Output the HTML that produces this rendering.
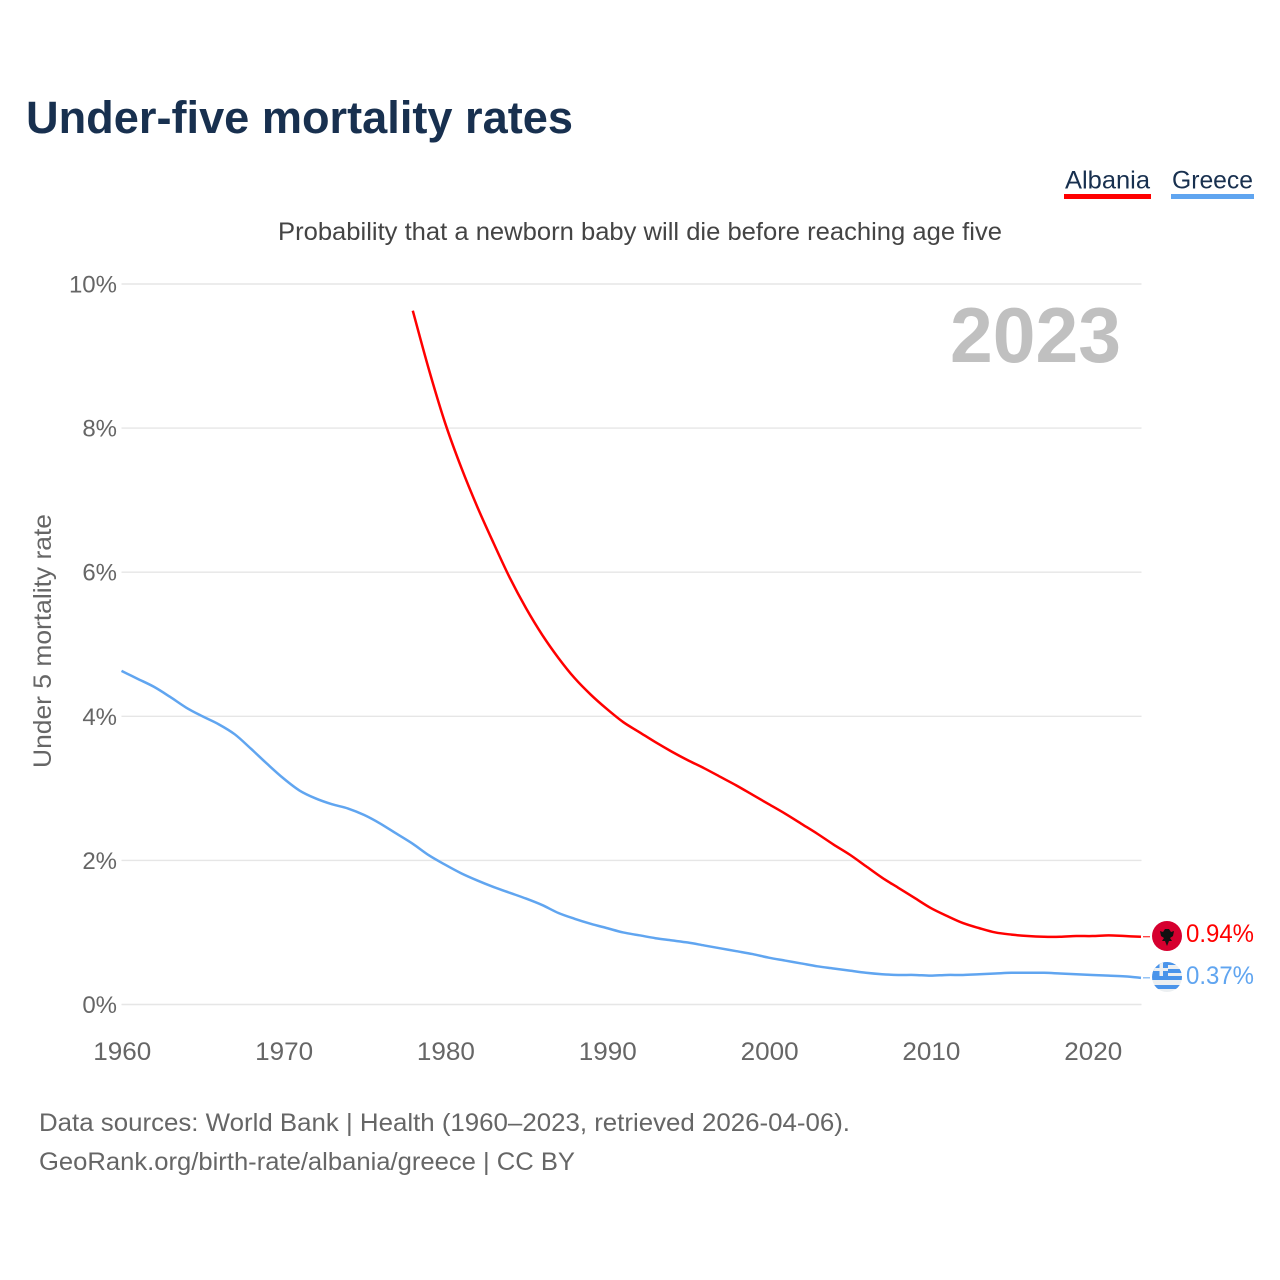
<!DOCTYPE html>
<html>
<head>
<meta charset="utf-8">
<style>
html,body{margin:0;padding:0;background:#fff;}
svg{display:block;}
text{font-family:"Liberation Sans",sans-serif;}
</style>
</head>
<body>
<svg id="chart" xmlns="http://www.w3.org/2000/svg" width="1280" height="1280" viewBox="0 0 1280 1280">
  <rect width="1280" height="1280" fill="#fff"/>
  <text x="26" y="133" font-size="45" font-weight="bold" fill="#18304f" textLength="547" lengthAdjust="spacingAndGlyphs">Under-five mortality rates</text>
  <g>
    <text x="1065" y="188.5" font-size="25" fill="#18304f" textLength="85" lengthAdjust="spacingAndGlyphs">Albania</text>
    <rect x="1064" y="194" width="87" height="5" fill="#ff0000"/>
  </g>
  <g>
    <text x="1172" y="188.5" font-size="25" fill="#18304f" textLength="81" lengthAdjust="spacingAndGlyphs">Greece</text>
    <rect x="1171" y="194" width="83" height="5" fill="#60a5f0"/>
  </g>
  <text x="278" y="240" font-size="25" fill="#444" textLength="724" lengthAdjust="spacingAndGlyphs">Probability that a newborn baby will die before reaching age five</text>
  <text x="950" y="362" font-size="78" font-weight="bold" fill="#c0c0c0" textLength="171" lengthAdjust="spacingAndGlyphs">2023</text>
  <text transform="translate(51 768) rotate(-90)" font-size="25" fill="#666" textLength="254" lengthAdjust="spacingAndGlyphs">Under 5 mortality rate</text>
  <g id="grid"></g>
  <g id="xticks"></g>
  <g id="series"></g>
  <g id="ends"></g>
  <text x="39" y="1131" font-size="25" fill="#666" textLength="811" lengthAdjust="spacingAndGlyphs">Data sources: World Bank | Health (1960–2023, retrieved 2026-04-06).</text>
  <text x="39" y="1170" font-size="25" fill="#666" textLength="536" lengthAdjust="spacingAndGlyphs">GeoRank.org/birth-rate/albania/greece | CC BY</text>
</svg>
<script>
const NS = 'http://www.w3.org/2000/svg';
const yTickValues = [0, 2, 4, 6, 8, 10];
const xTickYears = [1960, 1970, 1980, 1990, 2000, 2010, 2020];
const albaniaStartYear = 1978;
const greeceStartYear = 1960;
const albaniaValues = [9.63, 8.81, 8.07, 7.45, 6.9, 6.4, 5.92, 5.5, 5.13, 4.81, 4.53, 4.3, 4.1, 3.92, 3.78, 3.64, 3.51, 3.39, 3.28, 3.16, 3.04, 2.91, 2.78, 2.65, 2.51, 2.37, 2.22, 2.08, 1.92, 1.76, 1.62, 1.48, 1.34, 1.23, 1.13, 1.06, 1.0, 0.97, 0.95, 0.94, 0.94, 0.95, 0.95, 0.96, 0.95, 0.94];
const greeceValues = [4.63, 4.52, 4.41, 4.27, 4.12, 4.0, 3.89, 3.75, 3.55, 3.34, 3.14, 2.97, 2.86, 2.78, 2.72, 2.63, 2.51, 2.37, 2.23, 2.07, 1.94, 1.82, 1.72, 1.63, 1.55, 1.47, 1.38, 1.27, 1.19, 1.12, 1.06, 1.0, 0.96, 0.92, 0.89, 0.86, 0.82, 0.78, 0.74, 0.70, 0.65, 0.61, 0.57, 0.53, 0.50, 0.47, 0.44, 0.42, 0.41, 0.41, 0.40, 0.41, 0.41, 0.42, 0.43, 0.44, 0.44, 0.44, 0.43, 0.42, 0.41, 0.40, 0.39, 0.37];

function xScale(year) { return 121.5 + (year - 1960) * (1141 - 121.5) / 63; }
function yScale(v) { return 1004.5 - v * 72.05; }

function make(parent, tag, attrs) {
  const el = document.createElementNS(NS, tag);
  for (const k in attrs) el.setAttribute(k, attrs[k]);
  parent.appendChild(el);
  return el;
}

const grid = document.getElementById('grid');
yTickValues.forEach(function (v) {
  const line = make(grid, 'line', { x1: 121.5, x2: 1141.5, y1: yScale(v), y2: yScale(v), stroke: '#e6e6e6', 'stroke-width': 1.4 });
  
  
  const label = make(grid, 'text', { x: 117, y: yScale(v) + 8.5, 'text-anchor': 'end', 'font-size': 24, fill: '#666' });
  
  
  label.textContent = v + '%';
});

const xticks = document.getElementById('xticks');
xTickYears.forEach(function (yr) {
  const label = make(xticks, 'text', { x: xScale(yr) + 0.8, y: 1060, 'text-anchor': 'middle', 'font-size': 25, fill: '#666', textLength: 58, lengthAdjust: 'spacingAndGlyphs' });
  
  
  label.textContent = yr;
});

function smoothPath(values, start) {
  const pts = values.map(function (v, i) { return [xScale(start + i), yScale(v)]; });
  let d = 'M' + pts[0][0].toFixed(2) + ' ' + pts[0][1].toFixed(2);
  for (let i = 0; i < pts.length - 1; i++) {
    const p0 = pts[Math.max(i - 1, 0)], p1 = pts[i], p2 = pts[i + 1], p3 = pts[Math.min(i + 2, pts.length - 1)];
    const c1x = p1[0] + (p2[0] - p0[0]) / 6, c1y = p1[1] + (p2[1] - p0[1]) / 6;
    const c2x = p2[0] - (p3[0] - p1[0]) / 6, c2y = p2[1] - (p3[1] - p1[1]) / 6;
    d += 'C' + c1x.toFixed(2) + ' ' + c1y.toFixed(2) + ' ' + c2x.toFixed(2) + ' ' + c2y.toFixed(2) + ' ' + p2[0].toFixed(2) + ' ' + p2[1].toFixed(2);
  }
  return d;
}

const series = document.getElementById('series');
const greeceLine = make(series, 'path', { d: smoothPath(greeceValues, greeceStartYear), fill: 'none', stroke: '#60a5f0', 'stroke-width': 2.5, 'stroke-linejoin': 'round' });


const albaniaLine = make(series, 'path', { d: smoothPath(albaniaValues, albaniaStartYear), fill: 'none', stroke: '#ff0000', 'stroke-width': 2.5, 'stroke-linejoin': 'round' });



const ends = document.getElementById('ends');
const albaniaLast = albaniaValues[albaniaValues.length - 1];
const greeceLast = greeceValues[greeceValues.length - 1];
const lastX = xScale(2023);

const conA = make(ends, 'line', { x1: lastX + 2, x2: 1150, y1: yScale(albaniaLast), y2: yScale(albaniaLast), stroke: '#ff0000', 'stroke-width': 1 });


const conG = make(ends, 'line', { x1: lastX + 2, x2: 1150, y1: yScale(greeceLast), y2: yScale(greeceLast), stroke: '#60a5f0', 'stroke-width': 1 });



// Albania flag
const flagA = make(ends, 'g', {});


make(flagA, 'circle', { cx: 1167, cy: 936, r: 15, fill: '#d6002f' });
make(flagA, 'path', { d: 'M1160 931 L1163 932 L1165 929 L1169 929 L1171 932 L1174 931 L1173 936 L1170 938 L1172 941 L1169 941 L1167 946 L1165 941 L1162 941 L1164 938 L1161 936 Z', fill: '#111' });

// Greece flag
const flagG = make(ends, 'g', {});


make(flagG, 'defs', {}).innerHTML = '<clipPath id="grClip"><circle cx="1167" cy="977" r="15"/></clipPath>';
const grClip = make(flagG, 'g', { 'clip-path': 'url(#grClip)' });
make(grClip, 'rect', { x: 1152, y: 962, width: 30, height: 30, fill: '#eceff1' });
make(grClip, 'rect', { x: 1152, y: 962, width: 30, height: 3, fill: '#4a94ea' });
make(grClip, 'rect', { x: 1152, y: 969, width: 30, height: 4, fill: '#4a94ea' });
make(grClip, 'rect', { x: 1152, y: 976, width: 30, height: 4, fill: '#4a94ea' });
make(grClip, 'rect', { x: 1152, y: 985, width: 30, height: 4, fill: '#4a94ea' });
make(grClip, 'rect', { x: 1152, y: 962, width: 16, height: 14, fill: '#4a94ea' });
make(grClip, 'rect', { x: 1159.5, y: 962, width: 3.5, height: 14, fill: '#eceff1' });
make(grClip, 'rect', { x: 1152, y: 968, width: 16, height: 3, fill: '#eceff1' });

const valA = make(ends, 'text', { x: 1186, y: 942, 'font-size': 25, fill: '#ff0000', textLength: 68, lengthAdjust: 'spacingAndGlyphs' });


valA.textContent = albaniaLast.toFixed(2) + '%';
const valG = make(ends, 'text', { x: 1186, y: 984, 'font-size': 25, fill: '#60a5f0', textLength: 68, lengthAdjust: 'spacingAndGlyphs' });


valG.textContent = greeceLast.toFixed(2) + '%';
</script>
</body>
</html>
